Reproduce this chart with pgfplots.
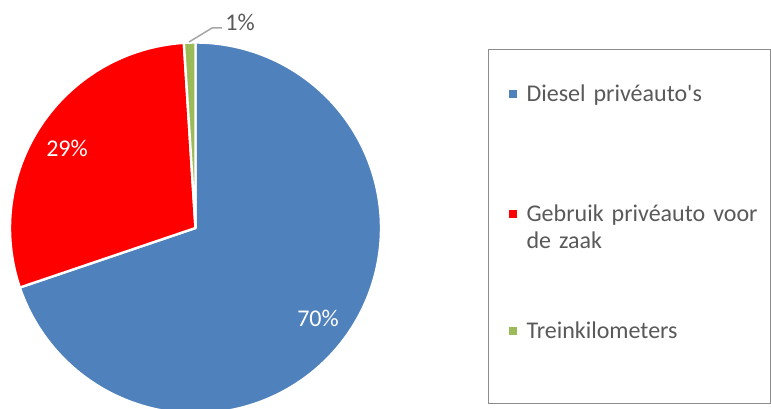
\documentclass[border=0pt]{standalone}
\usepackage{pgfplots}
\usepackage{pgfplotstable}
\pgfplotsset{compat=1.18}
\usepackage{fontspec}
\setmainfont{Carlito}
\definecolor{pieblue}{HTML}{4F81BD}
\definecolor{piered}{HTML}{FF0000}
\definecolor{piegreen}{HTML}{9BBB59}
\definecolor{txtgray}{HTML}{595959}
\definecolor{boxgray}{HTML}{8C8C8C}
\definecolor{leadgray}{HTML}{A6A6A6}
\pgfplotstableread{
label value
Diesel 69.8
Gebruik 29.2
Trein 1.0
}\piedata
\begin{document}
\begin{tikzpicture}
\pgfplotstablegetelem{0}{value}\of\piedata \pgfmathsetmacro\angA{90-3.6*\pgfplotsretval}
\pgfplotstablegetelem{1}{value}\of\piedata \pgfmathsetmacro\angB{\angA-3.6*\pgfplotsretval}
\pgfplotstablegetelem{2}{value}\of\piedata \pgfmathsetmacro\angC{\angB-3.6*\pgfplotsretval}
\begin{axis}[
  at={(0,0)}, anchor=origin,
  x=0.5pt, y=0.5pt,
  xmin=0, xmax=771, ymin=0, ymax=408,
  hide axis, clip=true,
  legend image code/.code={
    \path[draw=none, fill=none] (0pt,-1pt) rectangle (19pt,1pt);
    \fill[#1, draw=none] (10pt,1.75pt) rectangle (14pt,5.75pt);
  },
  legend style={
    at={(axis cs:488,359)}, anchor=north west,
    inner sep=0pt, draw=boxgray, line width=0.6pt,
    row sep=0pt, column sep=0pt,
    cells={anchor=base west},
    nodes={inner sep=0pt, text depth=, text height=, text width=122pt, align=left,
      font=\fontsize{12}{13.5}\selectfont, text=txtgray},
  },
]
\addplot[fill=pieblue, draw=white, line width=1.2pt, line join=round,
  domain=\angA:90, samples=200, variable=\t]
  ({195.5+185.5*cos(\t)}, {180+185.5*sin(\t)}) -- (axis cs:195.5,180) -- cycle;
\addlegendentry{\rule[-30pt]{0pt}{55.75pt}Diesel privéauto\textquotesingle s}
\addplot[fill=piered, draw=white, line width=1.2pt, line join=round,
  domain=\angB:\angA, samples=120, variable=\t]
  ({195.5+185.5*cos(\t)}, {180+185.5*sin(\t)}) -- (axis cs:195.5,180) -- cycle;
\addlegendentry{\rule{0pt}{30pt}Gebruik privéauto voor\\de zaak\rule[-15pt]{0pt}{15pt}}
\addplot[fill=piegreen, draw=white, line width=1.2pt, line join=round,
  domain=\angC:\angB, samples=10, variable=\t]
  ({195.5+185.5*cos(\t)}, {180+185.5*sin(\t)}) -- (axis cs:195.5,180) -- cycle;
\addlegendentry{\rule[-32.75pt]{0pt}{62.75pt}Treinkilometers}
\addplot[forget plot, leadgray, line width=0.75pt] coordinates {(189,366) (212,380) (222,380)};
\node[font=\fontsize{12}{14}\selectfont, text=white] at (axis cs:318,90) {70\%};
\node[font=\fontsize{12}{14}\selectfont, text=white] at (axis cs:67,260) {29\%};
\node[font=\fontsize{12}{14}\selectfont, text=txtgray] at (axis cs:240,386) {1\%};
\end{axis}
\pgfresetboundingbox
\useasboundingbox (0,0) rectangle (385.5pt,204pt);
\end{tikzpicture}
\end{document}
